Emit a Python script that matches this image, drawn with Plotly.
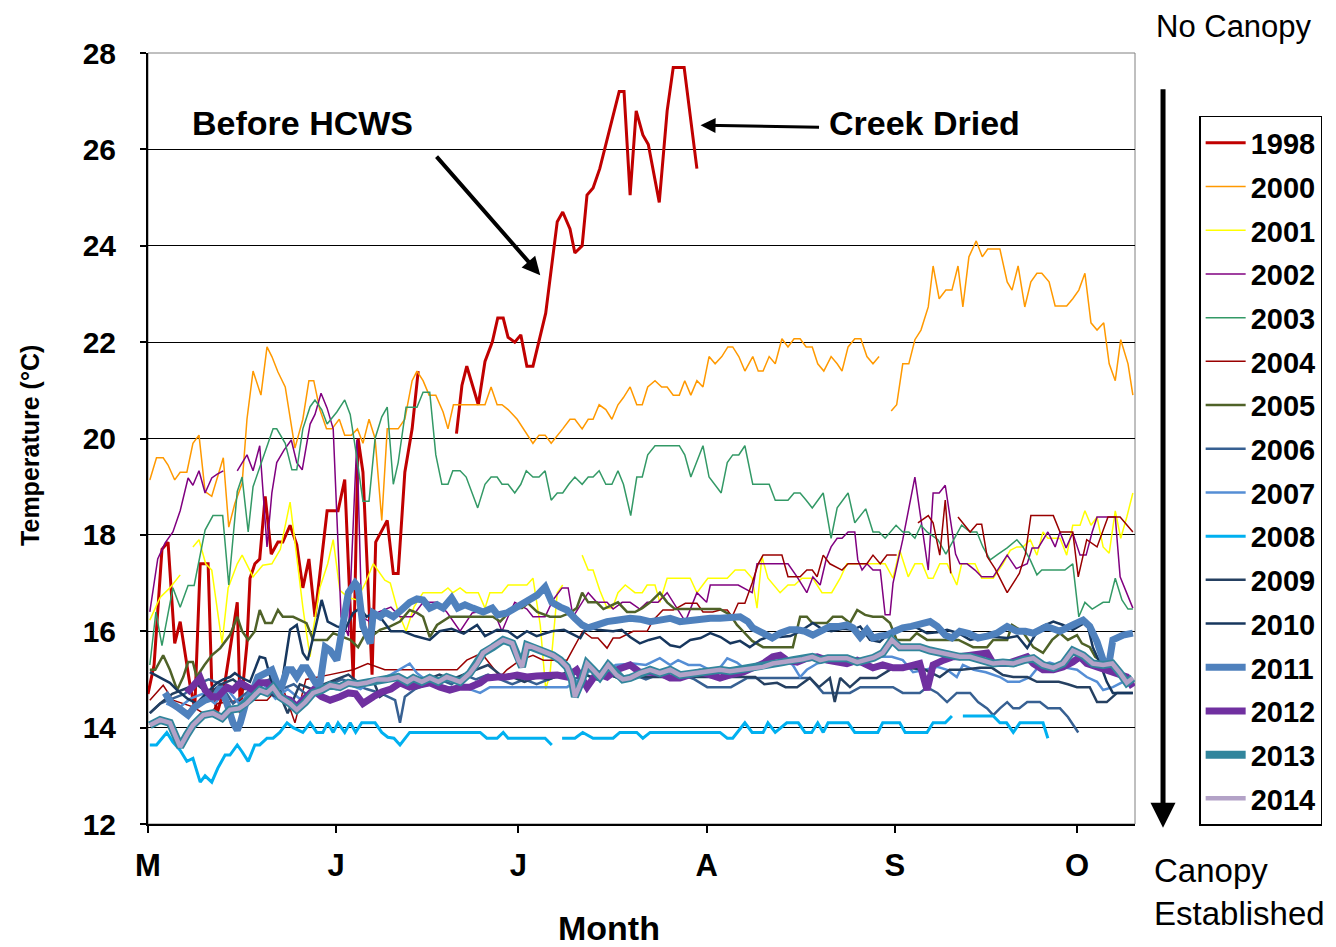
import plotly.graph_objects as go

# x = days since 1 May, y = temperature (deg C); None marks a data gap
month_ticks = [0, 31, 61, 92, 123, 153]
month_labels = ["M", "J", "J", "A", "S", "O"]

s1998 = [(0,14.7),(1,15.3),(2.3,17.7),(3.3,17.85),(4.4,15.75),(5.3,16.2),(6.9,14.9),(7.7,14.4),(8.6,17.4),(9.9,17.4),(10.5,14.9),(11.4,14.3),(12.5,14.8),(14.7,16.6),(15.2,14.3),(16.3,15.75),(16.8,17.1),(17.6,17.4),(18.4,17.5),(19.3,18.8),(20.3,17.6),(21.4,17.85),(22.2,17.85),(23.4,18.2),(24.5,17.8),(25.5,16.9),(26.5,17.5),(27.5,16.3),(29.5,18.5),(31.3,18.5),(32.4,19.15),(33.8,15.0),(34.6,20.0),(35.4,19.3),(36.9,15.1),(37.5,17.85),(39.4,18.3),(40.4,17.2),(41.2,17.2),(42.3,19.3),(43.5,20.2),(44.5,21.4),(47,None),(50.8,20.1),(51.7,21.1),(52.5,21.5),(54.4,20.7),(55.5,21.6),(56.7,22.0),(57.6,22.5),(58.5,22.5),(59.3,22.1),(60.4,22.0),(61.4,22.15),(62.4,21.5),(63.4,21.5),(64.2,21.9),(65.5,22.6),(67.4,24.5),(68.3,24.7),(69.5,24.35),(70.3,23.85),(71.5,24.0),(72.3,25.05),(73.3,25.2),(74.4,25.6),(76.4,26.6),(77.6,27.2),(78.4,27.2),(79.4,25.05),(80.4,26.8),(81.5,26.3),(82.4,26.1),(84.2,24.9),(85.5,26.8),(86.5,27.7),(88.3,27.7),(90.4,25.6)]

s2000 = [(0.3,19.14),(1.4,19.6),(2.5,19.6),(3.3,19.45),(4.4,19.14),(5.3,19.3),(6.4,19.3),(7.4,19.9),(8.4,20.07),(9.4,18.9),(10.5,18.8),(11.5,19.2),(12.4,19.6),(13.3,18.16),(14.3,18.65),(15.5,19.07),(16.3,20.4),(17.3,21.4),(18.6,20.9),(19.6,21.9),(20.4,21.7),(21.4,21.38),(22.6,21.07),(23.7,20.2),(24.2,19.8),(25.5,20.4),(26.5,21.2),(27.3,21.2),(28.3,20.6),(29.4,20.2),(30.3,20.2),(31.5,20.4),(32.4,20.07),(33.5,20.07),(34.5,20.2),(35.4,19.9),(36.4,20.4),(37.4,20.0),(38.5,18.3),(39.4,20.2),(41.2,20.2),(42.3,20.4),(43.5,21.2),(44.3,21.4),(45.3,21.2),(46.3,20.9),(47.4,20.9),(48.6,20.55),(49.4,20.2),(50.3,20.7),(51.9,20.7),(54.2,20.7),(55.5,20.7),(56.5,21.07),(57.5,20.7),(58.3,20.7),(59.3,20.6),(60.8,20.4),(62.4,20.1),(63.4,19.9),(64.4,20.07),(65.4,20.07),(66.4,19.9),(67.4,20.07),(68.3,20.2),(69.5,20.4),(70.3,20.4),(71.5,20.2),(72.5,20.4),(73.3,20.4),(74.3,20.7),(75.4,20.6),(76.4,20.4),(77.4,20.7),(78.3,20.85),(79.4,21.07),(80.5,20.7),(81.4,20.7),(82.3,21.07),(83.5,21.2),(84.6,21.07),(85.5,21.07),(86.5,20.9),(87.5,20.9),(88.4,21.2),(89.4,20.9),(90.4,21.2),(91.4,21.07),(92.4,21.7),(93.4,21.55),(94.5,21.7),(95.5,21.9),(96.3,21.9),(97.3,21.7),(98.3,21.4),(99.6,21.7),(100.5,21.4),(101.3,21.4),(102.3,21.7),(103.3,21.55),(104.4,22.07),(105.4,21.9),(106.4,22.07),(107.4,22.07),(108.4,21.9),(109.4,21.9),(110.3,21.55),(111.3,21.4),(112.5,21.7),(113.5,21.55),(114.3,21.4),(115.3,21.9),(116.4,22.07),(117.4,22.07),(118.4,21.7),(119.4,21.55),(120.4,21.7),(121.4,None),(122.4,20.57),(123.3,20.7),(124.3,21.55),(125.3,21.55),(126.3,22.05),(127.3,22.25),(128.5,22.73),(129.3,23.58),(130.3,22.9),(131.4,23.08),(132.4,23.08),(133.4,23.58),(134.2,22.73),(135.2,23.77),(136.4,24.1),(137.4,23.77),(138.3,23.93),(140.3,23.93),(141.5,23.25),(142.3,23.08),(143.3,23.58),(144.4,22.73),(145.4,23.25),(146.4,23.43),(147.2,23.43),(148.4,23.25),(149.4,22.75),(151.3,22.75),(152.3,22.9),(153.3,23.08),(154.3,23.43),(155.3,22.4),(156.3,22.25),(157.4,22.4),(158.3,21.55),(159.3,21.2),(160.2,22.05),(161.4,21.55),(162.2,20.9)]

s2001 = [(0.3,16.23),(2,16.7),(3.6,16.9),(5.3,17.17),(6.3,None),(7.4,17.75),(8.4,17.9),(9.5,17.4),(10.5,17.27),(12.2,15.75),(13.2,16.9),(14.7,17.4),(15.5,17.58),(17.3,17.13),(18.9,17.37),(20.4,17.4),(21.8,17.7),(23.4,18.68),(24.5,17.5),(25.5,16.5),(26.1,15.96),(26.7,15.47),(27.2,16.03),(28.3,16.9),(29.6,17.4),(30.5,17.9),(31.6,16.85),(33,16.7),(34.4,16.65),(35.8,17.0),(37.1,17.4),(39,17.06),(39.9,17.0),(41.2,16.4),(42.5,16.0),(43.8,16.5),(45.3,16.8),(48.4,16.8),(49.4,16.9),(50.2,16.8),(51.4,16.9),(52.4,16.8),(54.4,16.8),(55.5,16.48),(56.3,16.8),(58.3,16.8),(59.3,16.96),(62.4,16.96),(63.4,17.1),(64.6,16.13),(65.5,14.8),(66.2,15.1),(67.4,16.8),(68.3,16.96),(69.5,None),(71.5,17.58),(72.5,17.27),(73.3,17.27),(74.4,16.85),(75.6,16.48),(76.5,16.48),(77.4,16.8),(78.6,16.96),(80.2,16.8),(81.4,16.8),(82.2,16.96),(83.5,16.96),(84.3,16.6),(85.5,17.1),(89.3,17.1),(90.4,16.8),(92.2,17.1),(95.4,17.1),(96.7,17.27),(98.3,17.27),(99.5,17.1),(100.3,16.48),(101.1,17.55),(102.1,17.1),(104.1,16.8),(105.4,16.96),(106.5,16.96),(107.7,17.1),(109.5,17.1),(111,16.8),(112.6,16.8),(114,17.1),(115.1,17.4),(117.9,17.4),(119.7,17.4),(121.4,17.4),(122.7,17.1),(123.8,17.68),(125.2,17.13),(126.3,17.4),(127.5,17.4),(128.5,17.1),(129.3,17.1),(130.4,17.4),(131.6,17.4),(133.2,16.96),(134,17.4),(136.2,17.4),(137.3,17.1),(139.2,17.1),(140.8,17.4),(142,17.68),(143.1,17.75),(144.1,17.75),(145.3,17.9),(146.4,17.58),(147.4,18.06),(148.2,17.93),(150.2,17.93),(151.3,17.58),(152.3,18.2),(153.5,18.2),(154.3,18.5),(155.3,18.2),(156.3,18.37),(157.3,17.75),(158.3,17.62),(159.3,18.5),(160.2,17.93),(161.2,18.37),(162.2,18.87)]

s2002 = [(0.3,16.4),(1.6,17.5),(2.8,17.83),(4.1,18.06),(5.3,18.5),(6.6,19.18),(7.4,19.03),(8.4,19.33),(9.4,18.87),(10.5,19.18),(11.4,19.26),(12.4,19.33),(13.5,None),(14.7,19.33),(15.5,19.5),(16.3,19.66),(17.3,19.33),(18.4,19.85),(19.6,17.75),(20.4,18.87),(21.2,19.5),(22.4,19.76),(23.6,19.97),(24.5,19.5),(25.4,19.35),(26.7,20.3),(27.5,20.5),(28.5,20.94),(29.5,20.63),(30.5,20.2),(31.8,16.3),(33,15.9),(34.4,19.97),(35.2,16.3),(36.5,16.2),(38,16.4),(40,16.5),(41.5,16.3),(43.5,16.3),(45.3,16.6),(47.6,16.6),(49.2,16.4),(51.4,16.0),(53.4,16.38),(56.8,16.46),(58.3,16.0),(59.3,16.3),(60.4,16.6),(62.4,16.46),(63.4,16.3),(65.4,16.3),(66.7,16.65),(68.2,16.9),(69.2,16.9),(70,16.3),(71.5,16.6),(72.5,16.8),(73.9,16.6),(75.6,16.6),(76.6,16.46),(78.1,16.6),(79.4,16.6),(81,16.46),(82.2,16.6),(84,16.6),(85.5,16.8),(87,16.5),(88.5,16.2),(90.4,16.8),(92,16.6),(92.6,16.96),(97.2,16.96),(99.5,16.8),(100.3,17.4),(105.4,17.4),(106.9,17.13),(108.5,16.8),(109.5,17.13),(110.7,16.96),(111.7,17.5),(112.5,17.75),(113.5,17.93),(114.3,17.93),(115.3,18.06),(116.4,18.06),(116.9,17.48),(117.6,17.27),(118.4,17.4),(119.4,17.27),(120.6,17.27),(121.4,16.34),(122.2,16.34),(122.7,17.0),(123.8,17.6),(124.3,17.9),(126.3,19.2),(127.3,18.3),(128.5,17.27),(129.3,18.87),(130.3,18.87),(131.3,19.03),(133,17.6),(133.7,17.4),(134.9,17.4),(136.2,17.27),(137.3,17.13),(139.2,17.13),(140.5,17.4),(141.5,17.58),(143,17.3),(144.8,17.4),(145.6,17.73),(146.6,17.73),(148.2,18.06),(149.4,17.75),(150.2,18.06),(151.2,17.73),(152.3,18.04),(153.5,17.58),(154.5,17.58),(155.5,18.06),(156.3,18.37),(159.3,18.37),(160.1,17.13),(161.2,16.8),(162.2,16.48)]

s2003 = [(0.3,15.3),(1.3,16.4),(2.3,15.7),(4.1,16.9),(5.3,16.5),(6.6,16.95),(7.6,16.95),(9.4,18.1),(10.7,18.4),(12.3,18.4),(13.3,16.96),(14.7,18.9),(15.5,19.2),(16.5,18.06),(17.3,19.0),(18.8,19.55),(20.6,20.2),(21.2,20.2),(22.6,19.9),(23.7,19.35),(24.5,19.35),(25.5,20.2),(26.7,20.66),(27.5,20.8),(28.6,20.6),(29.5,20.3),(31.1,20.55),(32.4,20.8),(33.3,20.5),(34.4,19.6),(35.4,18.7),(36.4,18.7),(37.4,20.0),(38.5,20.45),(39.4,20.65),(40.4,19.05),(41.2,19.5),(42.5,20.65),(44.3,20.65),(45.3,20.96),(46.4,20.96),(47.4,19.66),(48.4,19.05),(49.4,19.05),(50.2,19.33),(51.4,19.33),(52.4,19.2),(54.3,18.56),(55.5,19.05),(56.5,19.2),(57.5,19.2),(58.3,19.05),(59.3,19.05),(60.4,18.87),(61.4,19.05),(62.3,19.33),(63.4,19.2),(64.4,19.2),(65.4,19.33),(66.4,18.72),(67.4,18.87),(68.3,18.87),(69.3,19.05),(70.3,19.2),(71.5,19.05),(72.5,19.2),(73.3,19.2),(74.3,19.33),(75.4,19.05),(76.4,19.05),(77.4,19.33),(78.3,19.05),(79.5,18.4),(80.5,19.2),(81.4,19.2),(82.3,19.66),(83.5,19.85),(87.5,19.85),(88.4,19.66),(89.4,19.2),(91.4,19.85),(92.4,19.2),(94.4,18.87),(95.4,19.5),(96.3,19.66),(97.3,19.66),(98.3,19.85),(99.6,19.05),(102.3,19.05),(103.3,18.72),(105.4,18.72),(106.4,18.87),(107.4,18.87),(108.4,18.72),(109.4,18.56),(111.2,18.87),(112.5,17.93),(113.5,18.56),(115.3,18.87),(116.4,18.25),(118.2,18.54),(119.4,18.06),(120.4,18.06),(121.4,17.93),(123.2,18.2),(124.3,18.06),(125.3,18.06),(126.3,17.93),(127.3,18.2),(128.3,18.06),(130.1,17.9),(131.4,17.6),(132.9,17.93),(134,18.2),(135.4,18.06),(136.5,18.06),(137.5,17.75),(138.7,17.48),(140,17.6),(141.5,17.73),(143.1,17.9),(144.1,17.75),(145.3,17.48),(146.4,17.17),(147.2,17.27),(149,17.27),(151,17.27),(152.3,17.4),(153.3,16.3),(154.3,16.6),(155.5,16.46),(157.3,16.6),(158.3,16.6),(159.3,17.1),(160.4,16.65),(161.4,16.46),(162.2,16.46)]

s2004 = [(0.3,14.57),(2.5,14.88),(4.1,14.57),(7.4,14.43),(9.1,14.3),(10.5,14.3),(11.4,14.5),(15.2,14.57),(19.6,14.57),(22,14.9),(24.2,14.1),(26,15.0),(30,15.1),(33.8,15.2),(36.2,15.33),(39,15.2),(42.7,15.2),(45,15.2),(50.9,15.2),(52.5,15.4),(54.2,15.5),(55.2,15.5),(58,15.05),(59.1,15.2),(61.3,15.4),(63.4,15.5),(65.1,15.4),(69,15.4),(71.6,16.0),(73.1,15.86),(74.1,15.86),(75.6,15.65),(76.6,15.86),(77.7,15.86),(79.9,16.0),(82.2,16.0),(83.2,16.23),(84.8,16.44),(86.5,16.44),(88.5,16.58),(90.4,16.58),(91.4,16.4),(93,16.4),(94.2,16.44),(95.4,16.44),(96.2,16.3),(97.2,16.58),(98.3,16.58),(99.5,17.0),(100.5,17.4),(101.3,17.58),(104.4,17.58),(105.4,17.13),(107.4,17.13),(108.5,17.27),(109.4,17.27),(110.2,17.13),(111.2,17.58),(112.3,17.4),(114.3,17.27),(115.3,17.4),(118.4,17.4),(119.4,17.58),(120.6,17.4),(121.7,17.58),(123.3,17.58),(124.5,None),(126.8,18.25),(128.5,18.4),(129.3,18.25),(130.4,17.58),(131.3,18.72),(132.2,17.2),(132.8,None),(133.4,18.37),(135.4,18.06),(136.5,18.22),(137.3,18.22),(138.2,17.55),(139.5,17.3),(141.5,16.8),(142.5,17.0),(143.5,17.2),(144.5,17.6),(145.4,18.4),(149.1,18.4),(150.2,18.06),(152.3,18.06),(153.2,17.13),(154.6,17.9),(156.3,17.75),(158.1,18.37),(160.1,18.37),(162.2,18.06)]

s2005 = [(0.3,15.2),(1.2,15.2),(2.5,15.5),(3.6,15.2),(4.8,14.78),(5.8,15.05),(6.6,15.36),(7.4,15.36),(8,15.05),(9.3,15.3),(10.5,15.5),(11.9,15.65),(13.5,15.92),(14.7,16.3),(15.5,16.0),(16.5,15.82),(17.6,16.0),(18.4,16.44),(19.3,16.17),(20.4,16.17),(21.4,16.44),(22.2,16.3),(23.9,16.3),(26.1,16.17),(27.2,15.82),(29.5,15.82),(30.5,15.96),(33.3,15.82),(34.6,15.67),(35.7,15.92),(37.1,15.92),(38.2,16.03),(39.9,16.1),(41.5,16.2),(43.1,16.44),(44.3,16.38),(45.3,16.3),(46.4,15.88),(47.6,16.13),(49.7,16.3),(52.5,16.3),(54.7,16.3),(56.8,16.3),(58,16.2),(60.1,16.48),(61.6,16.48),(62.6,16.58),(64.1,16.4),(66.2,16.3),(67.9,16.3),(69.5,16.38),(70.6,16.48),(71.5,16.8),(72.5,16.6),(73.9,16.6),(75,16.46),(77.4,16.6),(78.9,16.4),(80.2,16.4),(81.4,16.48),(82.7,16.6),(84.3,16.8),(85.5,16.6),(86.8,16.46),(88.8,16.46),(92.1,16.46),(94.2,16.46),(95.9,16.34),(97,16.13),(98,16.0),(99.5,15.8),(101.3,15.67),(106.2,15.67),(107.4,16.3),(108.5,16.3),(109.4,16.17),(111.8,16.17),(112.8,16.3),(114.3,16.3),(115.6,16.17),(116.8,16.44),(118.1,16.34),(119.4,16.3),(121,16.3),(122.2,16.17),(123.3,15.82),(125.5,15.82),(126.6,15.96),(128.3,15.82),(131,15.82),(133.5,15.82),(135.9,15.67),(138.2,15.67),(139.2,15.82),(141.5,15.82),(142.3,16.13),(144,16.0),(145.8,15.67),(147.4,15.55),(148.9,15.82),(150.2,15.96),(151.5,15.82),(153,15.92),(153.8,15.75),(155.1,15.67),(156,15.47),(156.8,15.4)]

s2006 = [(0.3,14.3),(2,14.5),(4,14.6),(6,14.7),(8,14.9),(10,15.0),(12,14.9),(14,14.5),(16,14.7),(18,14.9),(20,15.0),(22,14.8),(24,14.9),(26,14.7),(28,14.8),(30,14.9),(32,15.0),(34,14.9),(36,14.8),(38.2,14.72),(40.7,14.57),(41.5,14.1),(42.3,14.64),(44,14.8),(46,14.9),(48,15.0),(50,14.9),(52,15.1),(54,15.0),(56,15.1),(58,15.0),(60,14.9),(62,15.0),(64,14.9),(66,15.0),(68,15.1),(70,15.0),(72,15.1),(74,15.0),(76,15.1),(78,15.0),(80,15.1),(82,15.0),(84,15.1),(86,15.0),(88,15.1),(90,15.0),(92.1,14.84),(94,14.84),(96,14.84),(98.7,15.03),(101,15.03),(103.6,15.03),(106,15.03),(109,15.03),(111.2,14.72),(113,14.72),(115.6,14.72),(117.3,14.84),(122.7,14.84),(124.3,14.72),(127.1,14.72),(128.3,14.84),(130,14.72),(131.6,14.53),(133.2,14.72),(135.4,14.72),(136.7,14.53),(138.2,14.4),(139.2,14.26),(140.3,14.4),(141.5,14.53),(142.5,14.4),(143.5,14.4),(144.8,14.53),(146.9,14.53),(148.2,14.4),(150.2,14.4),(151.5,14.22),(153.2,13.9)]

s2007 = [(3,14.5),(5,14.4),(7,14.6),(9,14.7),(11,14.5),(13,14.8),(15,14.5),(17,14.7),(19,14.9),(21,14.6),(23,14.8),(25,14.6),(27,14.7),(29,14.9),(31,14.8),(33,14.9),(35,14.8),(37,15.0),(38.2,15.0),(40,15.1),(43.1,15.33),(44.3,15.13),(46.4,14.93),(49.2,14.84),(52,14.84),(54.7,14.72),(56.3,14.84),(60.1,14.84),(65.7,14.84),(69,14.84),(71,15.0),(73,15.2),(75,15.1),(77,15.3),(79.9,15.33),(82,15.3),(84.3,15.44),(86,15.3),(87.3,15.4),(89,15.3),(90.9,15.3),(92.5,15.2),(94.2,15.24),(95.4,15.44),(97,15.35),(98.5,15.2),(99.6,15.26),(101.5,15.35),(103,15.3),(104.8,15.4),(106.2,15.3),(107.4,15.05),(108.5,15.2),(110.2,15.33),(112,15.4),(114,15.4),(116,15.35),(118.4,15.4),(120.6,15.47),(122.5,15.47),(124.3,15.4),(126,15.15),(128,15.2),(130,15.26),(131.6,15.2),(133.2,15.05),(134.2,15.3),(136,15.2),(138,15.15),(140.3,15.05),(141.6,14.95),(143.5,14.95),(145.3,15.05),(146.9,15.3),(148.5,15.35),(151.3,15.24),(153,15.2),(154.6,15.05),(156.3,14.95),(157.3,14.78),(158.9,14.84),(160.6,14.95),(162.2,14.95)]

s2008 = [(0.3,13.64),(1.4,13.64),(3.1,13.9),(4.1,13.7),(5.3,13.53),(6.4,13.3),(7.4,13.36),(8.6,12.87),(9.4,13.0),(10.5,12.87),(11.5,13.16),(12.7,13.43),(13.5,13.43),(14.7,13.64),(15.5,13.5),(16.5,13.3),(17.6,13.64),(18.4,13.64),(19.6,13.78),(20.6,13.78),(21.7,13.9),(22.9,14.1),(23.9,14.0),(25.5,13.9),(26.7,14.1),(27.8,13.9),(28.8,13.9),(29.6,14.1),(30.5,13.9),(31.3,14.1),(32.4,13.9),(33.3,14.1),(34.2,13.9),(35.2,14.1),(37.4,14.1),(38.5,13.9),(39.5,13.8),(40.5,13.78),(41.5,13.64),(43.1,13.9),(54.7,13.9),(55.8,13.78),(57.5,13.78),(58.5,13.9),(59.3,13.78),(65.4,13.78),(66.5,13.64),(67.3,None),(68.2,13.78),(70.3,13.78),(71.6,13.9),(73.3,13.78),(76.6,13.78),(77.7,13.9),(80.5,13.9),(81.5,13.78),(82.7,13.9),(94.2,13.9),(95.4,13.78),(96.3,13.78),(98.3,14.1),(99.5,13.9),(101.3,13.9),(102.1,14.1),(103.3,13.9),(105.2,14.1),(107.1,14.1),(108.2,13.9),(109.3,13.9),(110.3,14.1),(111.2,13.9),(112,14.1),(115.3,14.1),(116.4,13.9),(120.2,13.9),(121,14.1),(123.8,14.1),(124.7,13.9),(128.3,13.9),(129.3,14.1),(131.3,14.1),(132.4,14.24),(133.3,None),(134.2,14.24),(139.2,14.24),(140.3,14.1),(141.4,14.1),(142.5,13.9),(143.6,14.1),(147.4,14.1),(148.2,13.78)]

s2009 = [(0.3,14.3),(2,14.5),(4,14.7),(6,14.8),(8,14.9),(10,14.7),(12,14.9),(14,15.0),(16,14.8),(18,14.9),(20,14.7),(22,14.6),(23,14.3),(25,14.9),(27,14.8),(29,14.9),(31,15.0),(33,15.1),(35,14.9),(37,15.0),(38.2,14.64),(40,14.8),(42,15.0),(44,14.9),(46,15.0),(48,15.1),(50,15.0),(52,15.1),(54,15.2),(56,15.3),(58,15.1),(60,15.05),(62,14.95),(64,15.05),(66,15.0),(68,15.1),(70,15.2),(72,15.1),(74,15.0),(76,15.1),(78,15.0),(80,15.05),(84.3,15.05),(88,15.05),(92,15.05),(96,15.05),(100,15.05),(101.5,14.9),(103.6,14.93),(105,14.84),(106.9,14.84),(109,15.03),(110.5,14.84),(112.3,15.03),(113.1,14.53),(114,15.03),(115.6,14.84),(117.3,15.03),(120,15.03),(122.7,15.24),(125,15.24),(128,15.2),(130.4,15.05),(132,15.2),(134,15.2),(137,15.24),(139,15.24),(140.8,15.09),(142.5,15.05),(144.8,15.05),(146.4,14.95),(148,14.95),(150,14.95),(151.5,14.9),(153,14.84),(155.1,14.84),(156.3,14.53),(157.9,14.53),(159.6,14.72),(162.2,14.72)]

s2010 = [(0.3,15.15),(2,15.03),(3.6,14.93),(4.8,14.78),(6.5,14.6),(8,14.5),(9.5,14.7),(11.4,14.93),(12.4,15.0),(13.5,15.05),(14.3,15.13),(15.2,15.05),(16.8,14.95),(18.4,15.47),(19.3,15.44),(20.4,14.93),(21.7,14.64),(23.4,16.03),(24.5,16.13),(25.5,15.55),(26.3,15.4),(27.5,16.03),(28.6,16.65),(29.6,16.2),(31.1,16.1),(32.5,16.05),(33.8,16.38),(34.9,16.48),(36,16.3),(37.1,16.38),(38.2,16.3),(40,16.0),(42,16.0),(44,15.9),(46.4,15.82),(48,16.0),(50,16.05),(52,15.95),(54.2,16.13),(55.5,15.9),(57.5,16.03),(59.3,16.0),(60.8,15.86),(62.4,16.0),(64,15.9),(66.5,16.0),(68.5,16.03),(71.2,15.86),(72.3,16.1),(74,16.03),(76.6,16.0),(78,16.03),(79.4,15.88),(81,15.75),(82.5,15.82),(84.3,15.88),(86,15.71),(87.6,15.67),(89.3,15.82),(91,15.86),(92.6,15.96),(94.3,15.88),(95.9,15.75),(97.5,15.8),(99.1,15.67),(100.8,15.82),(102.5,15.9),(104.1,15.88),(105.8,15.9),(107.4,16.0),(109.5,16.17),(110.7,16.07),(112.5,16.0),(114.5,16.05),(116,16.03),(117.3,16.1),(118.9,15.82),(120.5,15.78),(122.7,16.03),(124.3,16.1),(126.5,16.08),(128.3,15.96),(130,15.98),(131.6,16.03),(133.5,15.96),(135.4,15.82),(137.5,15.88),(139.5,15.88),(141.5,15.86),(143.2,15.9),(144.8,15.65),(146,15.9),(147.2,16.1),(149.1,16.2),(150.7,16.13),(152.3,16.03),(154.6,16.2),(155.6,15.67),(156.8,15.33),(157.9,14.95),(158.9,14.72),(160.6,14.72),(162.2,14.72)]

s2011 = [(2.8,14.72),(3.9,14.5),(4.8,14.43),(6.6,14.26),(7.7,14.43),(9.4,14.57),(11,14.64),(11.9,14.84),(13,14.5),(14,14.1),(14.7,13.95),(15.2,14.1),(16.3,14.6),(17.3,14.78),(18.1,15.05),(19.3,15.15),(20.4,15.2),(21.2,14.93),(22,14.85),(22.9,15.2),(23.7,15.2),(24.5,15.05),(25.4,15.24),(26.1,15.24),(27,15.05),(28.2,14.8),(29.2,15.67),(30,15.6),(31.1,15.4),(32,16.03),(33,16.8),(34.1,17.0),(34.6,16.92),(35.4,16.1),(36.6,15.75),(37.1,16.38),(38.2,16.3),(39,16.4),(40.4,16.3),(41.8,16.45),(43.1,16.6),(44.3,16.67),(45.3,16.65),(46.4,16.48),(47.6,16.55),(48.6,16.48),(50,16.69),(51,16.48),(52.2,16.55),(53.5,16.48),(55.2,16.4),(56.7,16.48),(57.6,16.34),(59.1,16.38),(60.8,16.5),(62.4,16.65),(64.1,16.75),(65.4,16.92),(66.5,16.6),(67.9,16.5),(69,16.44),(70.3,16.27),(71.5,16.13),(72.5,16.07),(73.9,16.13),(75.6,16.2),(77.2,16.23),(79.4,16.27),(81,16.25),(82.7,16.2),(84.3,16.23),(86,16.27),(87.6,16.2),(89.3,16.23),(90.9,16.27),(92.6,16.27),(94.2,16.27),(96,16.28),(97.5,16.3),(98.8,16.2),(99.6,16.07),(101.3,15.96),(102.8,15.86),(104.1,15.96),(105.7,16.03),(107,16.03),(108.2,16.0),(109.5,15.92),(111,16.03),(112.3,16.1),(113.8,16.1),(115.1,16.13),(116.1,16.07),(117.3,15.88),(118.4,16.03),(119.4,15.86),(120.5,15.9),(121.7,15.92),(123,16.0),(124.3,16.07),(125.7,16.1),(127.1,16.13),(128.8,16.2),(130,16.1),(131.3,15.92),(132.4,15.86),(133.7,16.0),(135.2,15.95),(136.7,15.86),(138.2,15.9),(139.8,15.96),(141.5,16.1),(143.1,16.0),(144.5,16.0),(145.8,15.96),(148,16.1),(150.2,16.0),(152.3,16.13),(154,16.23),(155.1,16.1),(156.3,15.78),(157.3,15.4),(158.1,15.2),(158.9,15.82),(160.6,15.92),(162.2,15.96)]

s2012 = [(6.4,14.72),(7.4,14.84),(8.6,15.03),(9.4,14.78),(10.5,14.64),(11.5,14.64),(13,14.84),(14,14.78),(15.2,14.93),(16.3,14.85),(17.3,14.78),(18.4,14.93),(19.6,14.93),(20.6,14.78),(21.7,14.64),(23.4,14.57),(24.5,14.43),(25.5,14.57),(27.2,14.78),(28.6,14.64),(30,14.57),(31.6,14.64),(33,14.72),(34.2,14.7),(35.4,14.5),(37.1,14.64),(38.5,14.74),(40,14.8),(41.5,14.93),(43.1,14.84),(44.8,14.88),(46.4,14.93),(48.1,14.84),(49.7,14.78),(51.4,14.84),(53,14.84),(54.7,14.93),(55.8,15.03),(57.5,15.05),(59,15.05),(60.8,15.09),(62.4,15.05),(64,15.07),(65.7,15.09),(67.4,15.09),(69,15.05),(70.6,15.2),(72.3,14.84),(73.9,15.13),(75.6,15.05),(77.2,15.2),(79.4,15.3),(81,15.15),(82.7,15.15),(84.3,15.13),(86,15.03),(87.6,15.03),(89.3,15.1),(90.9,15.15),(92.5,15.1),(94.2,15.03),(96,15.1),(98,15.15),(99.6,15.24),(101.3,15.33),(102.9,15.47),(104.1,15.5),(105.2,15.4),(106.9,15.36),(108.5,15.44),(110.2,15.47),(111.8,15.4),(113.5,15.38),(115.1,15.33),(116.8,15.4),(118.4,15.3),(119.4,15.24),(121,15.3),(122.7,15.24),(124.3,15.24),(125.7,15.28),(127.1,15.33),(128.3,14.78),(129.3,15.3),(131,15.4),(132.6,15.47),(133.7,15.47),(135.3,15.5),(137,15.55),(138.2,15.55),(139.2,15.33),(141.5,15.33),(143.2,15.4),(144.8,15.47),(145.8,15.33),(147.4,15.2),(149.1,15.2),(150.7,15.26),(152.3,15.36),(153.5,15.47),(154.6,15.33),(156.3,15.26),(157.9,15.2),(159.6,15.13),(161.2,15.05),(162.2,14.84)]

s2014 = [(0.3,14.05),(2,14.16),(3.6,14.1),(5.3,13.6),(6.4,13.85),(7.4,14.05),(9.1,14.26),(10.7,14.3),(12.2,14.2),(13.5,14.37),(15,14.4),(16.2,14.5),(17.3,14.64),(18.4,14.78),(19.6,14.72),(20.6,14.84),(21.7,14.64),(23.4,14.5),(24.5,14.37),(25.9,14.53),(27.2,14.72),(28.6,14.78),(30,14.88),(31.6,14.84),(33,14.93),(34.5,14.9),(36,14.93),(37.7,15.0),(39.5,15.0),(41.2,15.05),(42.7,14.95),(43.7,15.03),(45.1,14.95),(46.4,15.03),(47.8,14.95),(49.2,15.05),(50.3,15.0),(51.4,14.95),(53,15.13),(54.2,15.33),(55.2,15.55),(56.8,15.67),(58.5,15.82),(60,15.75),(61,15.4),(61.6,15.26),(62.4,15.71),(63.4,15.67),(65.1,15.57),(66.7,15.5),(67.9,15.4),(69,15.26),(69.8,15.0),(70.3,14.64),(71.5,15.0),(72.3,15.33),(73.3,15.2),(74.4,15.05),(75.8,15.3),(77.2,15.09),(78.2,15.0),(79.4,15.03),(81,15.13),(82.7,15.2),(84.3,15.13),(86,15.2),(87.6,15.09),(89.3,15.12),(90.9,15.15),(92.5,15.18),(94.2,15.2),(95.8,15.17),(97.5,15.2),(99.6,15.24),(101.3,15.26),(102.9,15.33),(104.6,15.36),(106.2,15.4),(107.8,15.42),(109.4,15.47),(110.7,15.4),(112,15.44),(113.5,15.44),(115.1,15.44),(116.8,15.36),(118.1,15.4),(119.5,15.45),(121,15.55),(122.5,15.82),(123.8,15.67),(125.5,15.67),(127.1,15.67),(128.8,15.6),(130.5,15.55),(132.1,15.5),(133.7,15.47),(135.4,15.47),(137.3,15.4),(139.2,15.33),(140.8,15.35),(142.5,15.33),(144.2,15.4),(145.8,15.44),(147.4,15.3),(149.1,15.24),(150.7,15.33),(152.3,15.6),(154,15.5),(155.6,15.33),(157.3,15.3),(158.8,15.33),(160.1,15.13),(161.2,14.93),(162.2,15.03)]
s2013 = list(s2014)  # 2013 lies directly beneath 2014 (visible only as its teal outline)

years = ["1998","2000","2001","2002","2003","2004","2005","2006","2007","2008","2009","2010","2011","2012","2013","2014"]
series = [s1998,s2000,s2001,s2002,s2003,s2004,s2005,s2006,s2007,s2008,s2009,s2010,s2011,s2012,s2013,s2014]
colors = ["#C00000","#FF9900","#FFFF00","#800080","#339966","#990000","#4F6228","#376092","#558ED5","#00B0F0","#254061","#17375E","#4F81BD","#7030A0","#31859C","#B3A2C7"]
widths = [3,1.5,1.5,1.5,1.5,1.5,2.5,2.5,2.5,3,2.5,2.5,7,7,8,4.5]

FONT = "Liberation Sans, Arial, sans-serif"
fig = go.Figure()
for yr, s, c, w in zip(years, series, colors, widths):
    fig.add_trace(go.Scatter(
        x=[p[0] for p in s], y=[p[1] for p in s], mode="lines", name=yr,
        legendgroup=yr, line=dict(color=c, width=w), connectgaps=False))

# the page body adds an 8px offset, so the figure is 8px smaller than the window
fig.update_layout(
    width=1328, height=939, margin=dict(l=140, r=201, t=45, b=123),
    paper_bgcolor="white", plot_bgcolor="white",
    font=dict(family=FONT, color="black"),
    showlegend=True,
    legend=dict(x=1.065, y=0.9183, xanchor="left", yanchor="top",
                bordercolor="black", borderwidth=1.5, bgcolor="white",
                font=dict(size=29, weight="bold", family=FONT),
                tracegroupgap=3, itemwidth=40, traceorder="grouped"),
    xaxis=dict(range=[0, 162.55], tickvals=month_ticks, ticktext=month_labels,
               showgrid=False, zeroline=False, showline=True, linecolor="black", linewidth=1.5,
               ticks="outside", ticklen=7, tickcolor="black", tickwidth=1.5,
               tickfont=dict(size=31, weight="bold", family=FONT), ticklabelstandoff=6),
    yaxis=dict(range=[12, 28], tickvals=list(range(12, 29, 2)),
               showgrid=True, gridcolor="black", gridwidth=1, zeroline=False,
               showline=True, linecolor="black", linewidth=2,
               ticks="outside", ticklen=6, tickcolor="black", tickwidth=1.5,
               tickfont=dict(size=30, weight="bold", family=FONT), ticklabelstandoff=18),
    shapes=[dict(type="rect", xref="paper", yref="paper", x0=0, x1=1, y0=0, y1=1,
                 line=dict(color="#808080", width=1), layer="below")],
)

C = dict(xanchor="center", yanchor="middle", showarrow=False)
ann = [
    dict(text="Before HCWS", x=25.4, y=26.55, xref="x", yref="y",
         font=dict(size=34, weight="bold"), **C),
    dict(text="", x=64.6, y=23.39, xref="x", yref="y", ax=-105, ay=-120,
         showarrow=True, arrowhead=2, arrowwidth=4, arrowsize=0.9, arrowcolor="black"),
    dict(text="Creek Dried", x=127.8, y=26.55, xref="x", yref="y",
         font=dict(size=34, weight="bold"), **C),
    dict(text="", x=91.0, y=26.5, xref="x", yref="y", ax=120, ay=2,
         showarrow=True, arrowhead=2, arrowwidth=3, arrowsize=1, arrowcolor="black"),
    dict(text="No Canopy", x=1.100, y=1.0104, xref="paper", yref="paper",
         xanchor="center", yanchor="bottom", showarrow=False, borderpad=0,
         font=dict(size=31)),
    dict(text="Canopy<br>Established", x=1.0172, y=-0.088, xref="paper", yref="paper",
         xanchor="left", yanchor="middle", align="left", showarrow=False, font=dict(size=33)),
    dict(text="", x=1.0284, y=-0.005, xref="paper", yref="paper", ax=0, ay=-740,
         showarrow=True, arrowhead=2, arrowwidth=5, arrowsize=1.0, arrowcolor="black"),
    dict(text="Temperature (°C)", x=-0.1196, y=0.4916, xref="paper", yref="paper",
         textangle=-90, font=dict(size=25, weight="bold"), **C),
    dict(text="Month", x=0.467, y=-0.135, xref="paper", yref="paper",
         font=dict(size=34, weight="bold"), **C),
]
fig.update_layout(annotations=ann)
fig.write_html("out.html")
